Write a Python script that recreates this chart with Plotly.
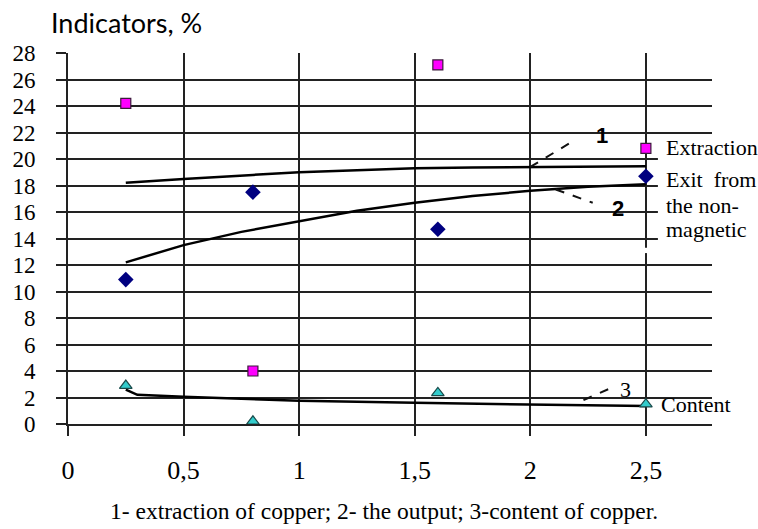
import plotly.graph_objects as go

# ---- data ----
x_points = [0.25, 0.8, 1.6, 2.5]
extraction = [24.2, 4.0, 27.1, 20.8]
exit_nonmag = [10.9, 17.5, 14.7, 18.7]
content = [2.9, 0.2, 2.35, 1.5]

trend_x1 = [0.25, 0.5, 0.8, 1.0, 1.25, 1.5, 1.75, 2.0, 2.25, 2.5]
trend_y1 = [18.2, 18.5, 18.8, 19.0, 19.15, 19.3, 19.35, 19.4, 19.45, 19.45]

trend_x2 = [0.25, 0.5, 0.75, 1.0, 1.25, 1.5, 1.75, 2.0, 2.25, 2.5]
trend_y2 = [12.2, 13.5, 14.5, 15.3, 16.1, 16.7, 17.2, 17.6, 17.9, 18.1]

trend_x3 = [0.25, 0.3, 0.5, 0.8, 1.0, 1.5, 2.0, 2.5]
trend_y3 = [2.6, 2.2, 2.05, 1.85, 1.75, 1.6, 1.5, 1.35]

x_ticks = [0, 0.5, 1, 1.5, 2, 2.5]
x_tick_labels = ["0", "0,5", "1", "1,5", "2", "2,5"]
y_ticks = list(range(0, 29, 2))

serif = "Liberation Serif, Times New Roman, serif"

fig = go.Figure()

for tx, ty in [(trend_x1, trend_y1), (trend_x2, trend_y2), (trend_x3, trend_y3)]:
    fig.add_trace(go.Scatter(x=tx, y=ty, mode="lines",
                             line=dict(color="black", width=2.5),
                             showlegend=False, hoverinfo="skip"))

fig.add_trace(go.Scatter(x=x_points, y=extraction, mode="markers", name="Extraction",
                         marker=dict(symbol="square", size=10, color="#FF00FF",
                                     line=dict(color="#3a1a3a", width=1.2))))
fig.add_trace(go.Scatter(x=x_points, y=exit_nonmag, mode="markers", name="Exit from the non-magnetic",
                         marker=dict(symbol="diamond", size=12, color="#000080",
                                     line=dict(color="#000080", width=0))))
fig.add_trace(go.Scatter(x=x_points, y=content, mode="markers", name="Content",
                         marker=dict(symbol="triangle-up", size=11, color="#33CCCC",
                                     line=dict(color="#1a4a4a", width=1.2))))

axis_common = dict(showgrid=True, gridcolor="#222", gridwidth=2,
                   ticks="outside", ticklen=10, tickwidth=2, tickcolor="#222",
                   showline=True, linecolor="#222", linewidth=2, zeroline=False)

fig.update_layout(
    xaxis=dict(range=[0, 2.786], tickmode="array", tickvals=x_ticks, ticktext=x_tick_labels,
               tickfont=dict(family=serif, size=26, color="black"),
               ticklabelstandoff=12, **axis_common),
    yaxis=dict(range=[0, 28], tickmode="array", tickvals=y_ticks,
               ticktext=[str(v) for v in y_ticks],
               tickfont=dict(family=serif, size=23, color="black"),
               ticklabelstandoff=16, **axis_common),
)

# white covers where the side labels interrupt the gridlines
fig.add_shape(type="rect", xref="x", yref="y", x0=2.552, x1=2.9, y0=13.6, y1=20.4,
              fillcolor="white", line=dict(width=0), layer="above")
fig.add_shape(type="rect", xref="x", yref="y", x0=2.48, x1=2.52, y0=12.9, y1=13.3,
              fillcolor="white", line=dict(width=0), layer="above")

# leader lines for curve numbers
for (x0, y0, x1, y1) in [(2.0, 19.4, 2.19, 21.4), (2.11, 17.7, 2.27, 16.7), (2.23, 1.8, 2.36, 2.8)]:
    fig.add_shape(type="line", xref="x", yref="y", x0=x0, y0=y0, x1=x1, y1=y1,
                  line=dict(color="#111", width=2, dash="dash"), layer="above")

annotations = [
    dict(text="<b>1</b>", x=2.31, y=21.8, font=dict(family="Liberation Sans", size=22, color="black")),
    dict(text="<b>2</b>", x=2.38, y=16.3, font=dict(family="Liberation Sans", size=22, color="black")),
    dict(text="3", x=2.41, y=2.6, font=dict(family=serif, size=22, color="black")),
]
for a in annotations:
    fig.add_annotation(xref="x", yref="y", showarrow=False, xanchor="center", yanchor="middle", **a)

side_labels = [("Extraction", 20.85), ("Exit  from", 18.45), ("the non-", 16.5), ("magnetic", 14.7)]
for txt, yv in side_labels:
    fig.add_annotation(text=txt, xref="paper", yref="y", x=0.925, y=yv, showarrow=False,
                       xanchor="left", yanchor="middle",
                       font=dict(family=serif, size=22, color="black"))
fig.add_annotation(text="Content", xref="paper", yref="y", x=0.918, y=1.45, showarrow=False,
                   xanchor="left", yanchor="middle", font=dict(family=serif, size=22, color="black"))

fig.add_annotation(text="Indicators, %", xref="paper", yref="paper", x=-0.03, y=1.083,
                   showarrow=False, xanchor="left", yanchor="middle",
                   font=dict(family="Lato", size=27, color="black"))
fig.add_annotation(text="1- extraction of copper; 2- the output; 3-content of copper.",
                   xref="paper", yref="paper", x=0.491, y=-0.2345, showarrow=False,
                   xanchor="center", yanchor="middle",
                   font=dict(family=serif, size=23.5, color="black"))

fig.update_layout(width=758, height=529, margin=dict(l=60, r=46, t=53, b=105),
                  paper_bgcolor="white", plot_bgcolor="white", showlegend=False,
                  font=dict(family=serif, color="black"))

fig.write_html("out.html")
